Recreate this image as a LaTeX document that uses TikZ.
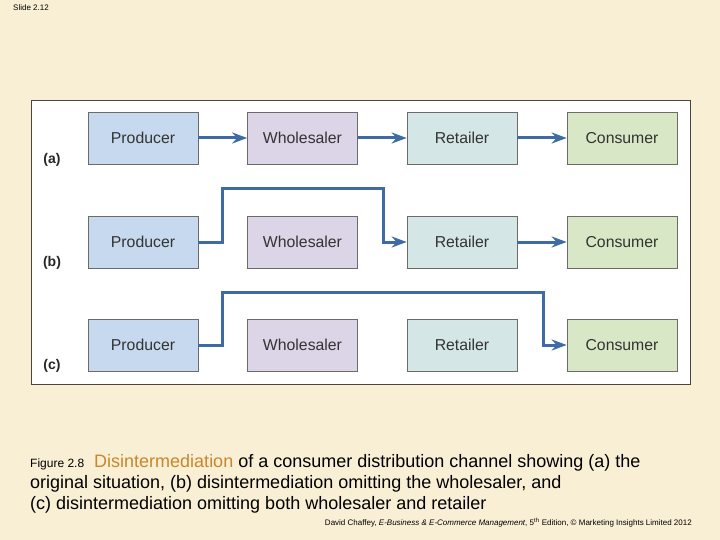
\documentclass[tikz,border=0pt]{standalone}
\usepackage{fontspec}
\setmainfont{Liberation Sans}
\usetikzlibrary{arrows.meta}
\definecolor{slidebg}{HTML}{F9EFD5}
\definecolor{prodfill}{HTML}{C6D9EE}
\definecolor{wholefill}{HTML}{DCD4E7}
\definecolor{retfill}{HTML}{D4E6E5}
\definecolor{consfill}{HTML}{D8E7C6}
\definecolor{flow}{HTML}{3E6BA6}
\definecolor{frame}{HTML}{4A4540}
\definecolor{highlight}{HTML}{C9862B}
\tikzset{
  box/.style={draw=frame!80, line width=0.7pt, minimum width=110pt,
    minimum height=52pt, inner sep=0pt, font=\fontsize{15.8}{16}\selectfont, text=black!80},
  link/.style={draw=flow, line width=3pt, -{Stealth[length=15pt, width=11pt]}},
  tag/.style={font=\bfseries\fontsize{14}{14}\selectfont, text=black!85},
  captext/.style={anchor=base west, inner sep=0pt, font=\fontsize{18}{18}\selectfont}
}
\begin{document}
\begin{tikzpicture}[x=1pt,y=-1pt]
  \fill[slidebg] (0,0) rectangle (720,540);
  \useasboundingbox (0,0) rectangle (720,540);
  \node[anchor=west, inner sep=0pt, font=\fontsize{8}{8}\selectfont] (slide) at (13,8) {Slide 2.12};
  \draw[frame, line width=0.9pt, fill=white] (31,100) rectangle (690,384);
  % row (a)
  \node[box, fill=prodfill] (pa) at (143,138) {Producer};
  \node[box, fill=wholefill] (wa) at (302.5,138) {Wholesaler};
  \node[box, fill=retfill] (ra) at (462,138) {Retailer};
  \node[box, fill=consfill] (ca) at (622,138) {Consumer};
  \node[tag] (a) at (52,160) {(a)};
  % row (b)
  \node[box, fill=prodfill] (pb) at (143,242) {Producer};
  \node[box, fill=wholefill] (wb) at (302.5,242) {Wholesaler};
  \node[box, fill=retfill] (rb) at (462,242) {Retailer};
  \node[box, fill=consfill] (cb) at (622,242) {Consumer};
  \node[tag] (b) at (52,263) {(b)};
  % row (c)
  \node[box, fill=prodfill] (pc) at (143,345) {Producer};
  \node[box, fill=wholefill] (wc) at (302.5,345) {Wholesaler};
  \node[box, fill=retfill] (rc) at (462,345) {Retailer};
  \node[box, fill=consfill] (cc) at (622,345) {Consumer};
  \node[tag] (c) at (52,366) {(c)};
  \begin{scope}[link]
    \draw (pa) -- (wa);
    \draw (wa) -- (ra);
    \draw (ra) -- (ca);
    \draw (pb.east) -- ++(24,0) |- (383,189) |- (rb.west);
    \draw (rb) -- (cb);
    \draw (pc.east) -- ++(24,0) |- (543,292) |- (cc.west);
  \end{scope}
  % caption
  \node[captext] (cap1) at (30,467)
    {{\fontsize{12}{12}\selectfont Figure 2.8}\ \ \textcolor{highlight}{Disintermediation} of a consumer distribution channel showing (a) the};
  \node[captext] (cap2) at (30,488)
    {original situation, (b) disintermediation omitting the wholesaler, and};
  \node[captext] (cap3) at (30,509)
    {(c) disintermediation omitting both wholesaler and retailer};
  \node[anchor=base east, inner sep=0pt, font=\fontsize{8}{8}\selectfont] (credit) at (692,525)
    {David Chaffey, \textit{E-Business \& E-Commerce Management}, 5\textsuperscript{th} Edition, \textcopyright\ Marketing Insights Limited 2012};
\end{tikzpicture}
\end{document}
